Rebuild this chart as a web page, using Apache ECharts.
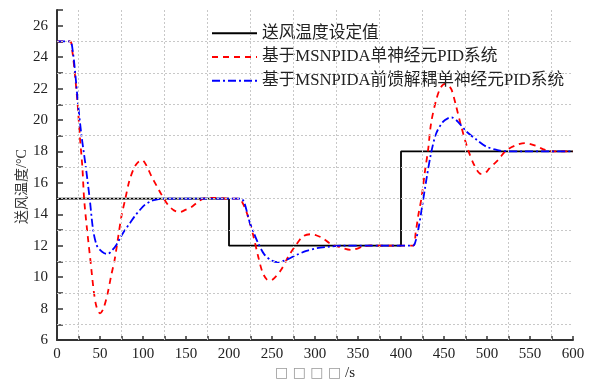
<!DOCTYPE html>
<html>
<head>
<meta charset="utf-8">
<title>送风温度</title>
<script src="https://cdn.jsdelivr.net/npm/echarts@6/dist/echarts.min.js"></script>
<style>
html, body { margin: 0; padding: 0; background: #fff; }
#main { width: 594px; height: 381px; }
</style>
</head>
<body>
<div id="main"></div>
<script type="text/javascript">
// 图例名称
var names = ['送风温度设定值', '基于MSNPIDA单神经元PID系统', '基于MSNPIDA前馈解耦单神经元PID系统'];

// 设定值 [t, 温度]
var setPoint = [[0, 15], [200, 15], [200, 12], [400, 12], [400, 18], [600, 18]];

// 单神经元PID (红色虚线)
var pidData = [
    [0, 25], [15, 25], [18, 24.3], [21, 22.8], [24, 21], [26.5, 19], [29.5, 17], [31.5, 15],
    [35, 13], [39, 11], [43, 9], [46, 8.1], [50, 7.7], [54, 8], [59, 9], [63, 10.1], [67, 11.1],
    [71, 12.5], [75, 13.9], [79.5, 15], [84, 16.1], [90, 17], [95, 17.35], [99, 17.45],
    [104, 17.1], [110, 16.4], [116, 15.8], [121, 15.3], [129, 14.6], [136, 14.25], [143, 14.15],
    [150, 14.3], [156, 14.45], [163, 14.75], [170, 15], [180, 15.05], [200, 15], [212, 15],
    [216, 14.7], [220, 14.2], [224, 13.5], [228, 12.7], [234, 11.3], [239, 10.3], [244, 9.85],
    [248, 9.78], [253, 9.95], [261, 10.5], [270, 11.4], [278, 12.05], [286, 12.6], [295, 12.73],
    [302, 12.65], [309, 12.48], [317, 12.16], [328, 11.92], [342, 11.73], [356, 11.94],
    [365, 12.02], [380, 12], [414, 12], [417, 12.8], [420, 13.9], [424, 15.1], [428, 16.8],
    [431.5, 18.1], [435, 19.8], [441, 21.3], [446, 22.05], [451, 22.3], [456, 22.15],
    [459, 21.9], [464, 20.9], [470, 19.6], [478, 18.1], [486, 17.04], [493, 16.57], [498, 16.62],
    [503, 16.94], [513, 17.46], [522, 18.05], [534, 18.4], [544, 18.53], [557, 18.36],
    [565, 18.15], [572, 18.02], [585, 18], [600, 18]
];

// 前馈解耦单神经元PID (蓝色点划线)
var ffData = [
    [0, 25], [15, 25], [18.5, 24.3], [21.5, 22.8], [24.5, 21], [28.5, 19], [33.5, 17], [38, 15],
    [42, 13], [46, 12.05], [50, 11.73], [55, 11.52], [59, 11.48], [64, 11.7], [69, 12.05],
    [74, 12.55], [79, 13], [85, 13.45], [90, 13.85], [96, 14.25], [102, 14.6], [108, 14.8],
    [114, 14.92], [125, 15], [200, 15], [214, 15], [218, 14.7], [224, 13.5], [229, 12.8],
    [234, 12.15], [241, 11.45], [249, 11.08], [257, 10.95], [266, 11.08], [278, 11.4],
    [290, 11.67], [302, 11.84], [317, 11.94], [330, 12], [414, 12], [417, 12.3], [420, 13],
    [424, 14.3], [429.5, 16.2], [435, 17.9], [441, 19.16], [449, 19.9], [455, 20.12],
    [459, 20.16], [466, 19.9], [476, 19.27], [488, 18.74], [499, 18.31], [511, 18.1],
    [520, 18.02], [540, 18], [600, 18]
];

// 坐标轴
var xMin = 0, xMax = 600, xStep = 25;
var yMin = 6, yMax = 27, yStep = 1;
// 网格线位置(点线)
var gridX = [25, 75, 125, 175, 225, 275, 325, 375, 425, 475, 525, 575];
var gridY = [7, 9, 11, 13, 15, 17, 19, 21, 23, 25];

var serifFont = "'Liberation Serif', 'Noto Sans CJK SC', serif";

var gridLines = [];
gridX.forEach(function (v) { gridLines.push({ xAxis: v }); });
gridY.forEach(function (v) { gridLines.push({ yAxis: v }); });

var myChart = echarts.init(document.getElementById('main'));

var option = {
    backgroundColor: '#fff',
    animation: false,
    grid: {
        left: 57,
        right: 21,
        top: 10,
        bottom: 41,
        outerBoundsMode: 'none'
    },
    legend: {
        orient: 'vertical',
        left: 206,
        top: 20,
        itemWidth: 45,
        itemHeight: 14,
        itemGap: 7,
        itemStyle: { opacity: 0 },
        textStyle: {
            fontFamily: serifFont,
            fontSize: 16.7,
            color: '#222'
        },
        data: names
    },
    xAxis: {
        type: 'value',
        min: xMin,
        max: xMax,
        interval: xStep,
        name: '{g|□ □ □ □} /s',
        nameLocation: 'middle',
        nameGap: 26,
        nameMoveOverlap: false,
        nameTextStyle: {
            fontFamily: serifFont,
            fontSize: 15,
            color: '#222',
            rich: {
                g: { fontSize: 14, color: '#999', fontFamily: 'DejaVu Sans' }
            }
        },
        axisLine: { show: true, onZero: false, lineStyle: { color: '#333', width: 2 } },
        axisTick: { show: true, inside: true, length: 4, lineStyle: { color: '#333', width: 1.5 } },
        axisLabel: {
            margin: 7,
            fontFamily: serifFont,
            fontSize: 15,
            color: '#222',
            formatter: function (v) { return v % 50 === 0 ? String(v) : ''; }
        },
        splitLine: { show: false }
    },
    yAxis: {
        type: 'value',
        min: yMin,
        max: yMax,
        interval: yStep,
        name: '送风温度/°C',
        nameLocation: 'middle',
        nameGap: 28,
        nameMoveOverlap: false,
        nameTextStyle: {
            fontFamily: serifFont,
            fontSize: 14,
            color: '#333',
            padding: [0, 23, 0, 0]
        },
        axisLine: { show: true, onZero: false, lineStyle: { color: '#333', width: 2 } },
        axisTick: { show: true, inside: true, length: 6, lineStyle: { color: '#333', width: 1.5 } },
        axisLabel: {
            margin: 9,
            fontFamily: serifFont,
            fontSize: 15,
            color: '#222',
            formatter: function (v) { return (v % 2 === 0 && v <= 26) ? String(v) : ''; }
        },
        splitLine: { show: false }
    },
    series: [
        {
            // 网格点线
            type: 'line',
            data: [],
            silent: true,
            z: 1,
            markLine: {
                silent: true,
                symbol: ['none', 'none'],
                label: { show: false },
                lineStyle: { color: '#c8c8c8', type: [2, 2], width: 1 },
                data: gridLines
            }
        },
        {
            name: names[0],
            type: 'line',
            data: setPoint,
            symbol: 'none',
            lineStyle: { color: '#000', width: 1.8, type: 'solid' },
            itemStyle: { color: '#000' }
        },
        {
            name: names[1],
            type: 'line',
            data: pidData,
            symbol: 'none',
            smooth: 0.3,
            lineStyle: { color: '#ff0000', width: 1.8, type: [6, 5] },
            itemStyle: { color: '#ff0000' }
        },
        {
            name: names[2],
            type: 'line',
            data: ffData,
            symbol: 'none',
            smooth: 0.3,
            lineStyle: { color: '#0000ff', width: 1.8, type: [8, 3, 2, 3] },
            itemStyle: { color: '#0000ff' }
        }
    ]
};

myChart.setOption(option);
</script>
</body>
</html>
